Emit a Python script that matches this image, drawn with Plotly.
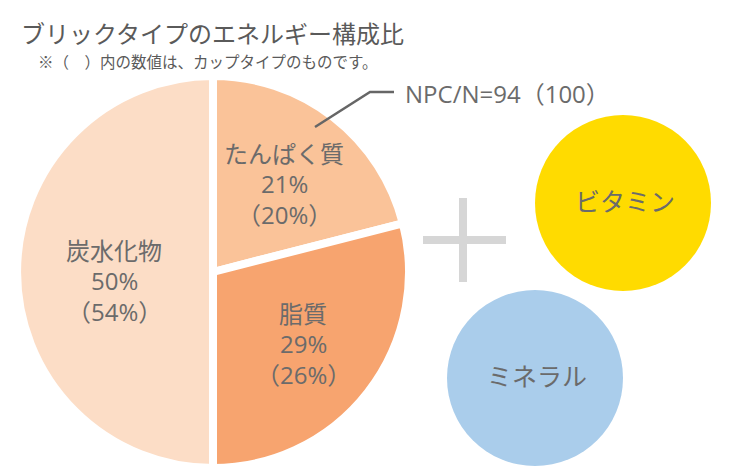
import plotly.graph_objects as go

# ---- data ----
title_text = "ブリックタイプのエネルギー構成比"
subtitle_text = "※（　）内の数値は、カップタイプのものです。"
nutrients = ["たんぱく質", "脂質", "炭水化物"]
brick_pct = [21, 29, 50]
cup_pct = [20, 26, 54]
slice_colors = ["#FAC399", "#F7A46F", "#FCDDC6"]
npc_brick = 94
npc_cup = 100
extras = ["ビタミン", "ミネラル"]
extra_colors = ["#FFDB00", "#AACDEB"]

W, H = 731, 473
OFF = 8  # page body margin
FONT = "Open Sans, Noto Sans CJK JP"
TXT = "#6b6b6b"

fig = go.Figure()

# pie centred at (213, 272) page px, radius ~196 px
cx, cy, r = 213 - OFF, 272 - OFF, 196
fig.add_trace(go.Pie(
    labels=nutrients, values=brick_pct, sort=False, direction="clockwise",
    rotation=0, marker=dict(colors=slice_colors, line=dict(color="white", width=8)),
    textinfo="none", hoverinfo="skip", showlegend=False,
    domain=dict(x=[(cx - r) / W, (cx + r) / W], y=[(H - cy - r) / H, (H - cy + r) / H]),
))

# invisible axes in page-pixel units
fig.update_xaxes(range=[OFF, W + OFF], visible=False, fixedrange=True)
fig.update_yaxes(range=[H + OFF, OFF], visible=False, fixedrange=True)

label_pos = {"たんぱく質": (284, 153), "脂質": (303, 313), "炭水化物": (114, 250)}
for name, b, c in zip(nutrients, brick_pct, cup_pct):
    x, y = label_pos[name]
    lines = [name, f"{b}%", f"（{c}%）"]
    for i, t in enumerate(lines):
        fig.add_annotation(x=x, y=y + i * 30.5, xref="x", yref="y", showarrow=False,
                           text=t, font=dict(family=FONT, size=24, color=TXT))

# NPC/N leader line and text
fig.add_shape(type="path", xref="x", yref="y",
              path="M 315 127 L 370 92 L 394 92",
              line=dict(color="#666666", width=2.5))
fig.add_annotation(x=403, y=93, xref="x", yref="y", showarrow=False, xanchor="left",
                   text=f"NPC/N={npc_brick}（{npc_cup}）",
                   font=dict(family=FONT, size=24, color=TXT))

# plus sign
fig.add_shape(type="line", xref="x", yref="y", x0=423, x1=506, y0=240, y1=240,
              line=dict(color="#D6D6D6", width=8))
fig.add_shape(type="line", xref="x", yref="y", x0=463, x1=463, y0=198, y1=282,
              line=dict(color="#D6D6D6", width=8))

# circles
circ = [(623, 203, 88), (535, 378, 88)]
for (x, y, rr), name, col in zip(circ, extras, extra_colors):
    fig.add_shape(type="circle", xref="x", yref="y", x0=x - rr, x1=x + rr, y0=y - rr, y1=y + rr,
                  fillcolor=col, line=dict(width=0), layer="below")
    fig.add_annotation(x=x + 2, y=y - 2, xref="x", yref="y", showarrow=False, text=name,
                       font=dict(family=FONT, size=25, color=TXT))

# titles
fig.add_annotation(x=19, y=33, xref="x", yref="y", showarrow=False, xanchor="left",
                   text=title_text, font=dict(family=FONT, size=24, color="#5a5a5a"))
fig.add_annotation(x=36, y=62, xref="x", yref="y", showarrow=False, xanchor="left",
                   text=subtitle_text, font=dict(family=FONT, size=15.5, color="#5a5a5a"))

fig.update_layout(width=W, height=H, margin=dict(l=0, r=0, t=0, b=0),
                  paper_bgcolor="white", plot_bgcolor="rgba(0,0,0,0)",
                  font=dict(family=FONT))
fig.write_html("out.html")
